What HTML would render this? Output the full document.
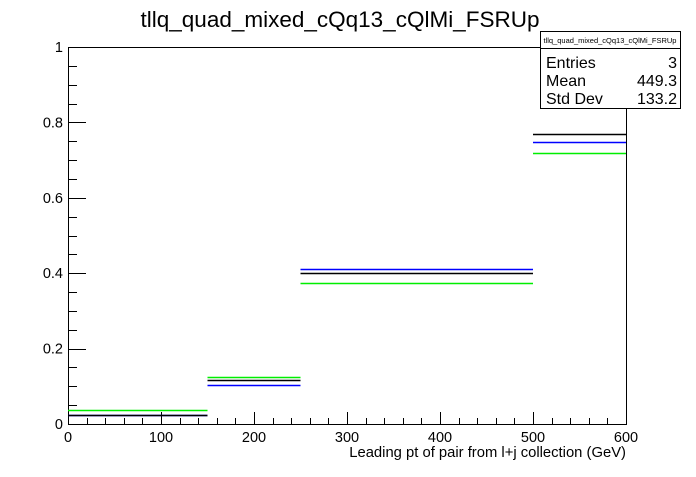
<!DOCTYPE html>
<html><head><meta charset="utf-8"><style>
body{margin:0;background:#fff;}
svg text{font-family:"Liberation Sans",sans-serif;}
</style></head><body>
<svg width="696" height="472" xmlns="http://www.w3.org/2000/svg">
<rect width="696" height="472" fill="#fff"/>
<text x="340" y="27" font-size="22.5" text-anchor="middle">tllq_quad_mixed_cQq13_cQlMi_FSRUp</text>
<g id="axes"></g>
<g id="series"></g>
<g>
<rect x="540.5" y="31.5" width="140" height="77" fill="#fff" stroke="#000"/>
<line x1="540" y1="48.5" x2="681" y2="48.5" stroke="#000"/>
<text x="610" y="43" font-size="7.5" text-anchor="middle">tllq_quad_mixed_cQq13_cQlMi_FSRUp</text>
<text x="546" y="68" font-size="16">Entries</text><text x="677" y="68" font-size="16" text-anchor="end">3</text>
<text x="546" y="86" font-size="16">Mean</text><text x="677" y="86" font-size="16" text-anchor="end">449.3</text>
<text x="546" y="104" font-size="16">Std Dev</text><text x="677" y="104" font-size="16" text-anchor="end">133.2</text>
</g>
</svg>
<script>
const binEdges=[0,150,250,500,600];
const blackVals=[0.024,0.117,0.401,0.769];
const blueVals=[0.024,0.103,0.410,0.747];
const greenVals=[0.037,0.125,0.373,0.720];
const xTicks=[0,100,200,300,400,500,600];
const yTicks=[0,0.2,0.4,0.6,0.8,1];
const yTickLabels=["0","0.2","0.4","0.6","0.8","1"];
const NS="http://www.w3.org/2000/svg";
const X0=68,X1=626,Y0=424,Y1=47;
const xs=v=>X0+(v-0)/(600-0)*(X1-X0);
const ys=v=>Y0-(v-0)/(1-0)*(Y0-Y1);
function mk(tag,attrs,parent){const e=document.createElementNS(NS,tag);for(const k in attrs)e.setAttribute(k,attrs[k]);parent.appendChild(e);return e;}
const ax=document.getElementById('axes');
const fr=mk('rect',{x:X0+0.5,y:Y1+0.5,width:X1-X0,height:Y0-Y1,fill:'none',stroke:'#000'},ax);


for(let v=0;v<=600;v+=20){const major=v%100===0;const x=Math.round(xs(v))+0.5;
mk('line',{x1:x,y1:Y0,x2:x,y2:Y0-(major?12:6),stroke:'#000'},ax);}
xTicks.forEach(v=>{const t=mk('text',{x:xs(v),y:Y0+18,'font-size':14.5,'text-anchor':'middle'},ax);t.textContent=v;

});
for(let i=0;i<=20;i++){const v=i*0.05;const major=i%4===0;const y=Math.round(ys(v))+0.5;
mk('line',{x1:X0,y1:y,x2:X0+(major?18:9),y2:y,stroke:'#000'},ax);}
yTicks.forEach((v,i)=>{const t=mk('text',{x:X0-5,y:ys(v)+5,'font-size':14.5,'text-anchor':'end'},ax);t.textContent=yTickLabels[i];

});
const xt=mk('text',{x:X1,y:457,'font-size':14.8,'text-anchor':'end'},ax);xt.textContent='Leading pt of pair from l+j collection (GeV)';


const sg=document.getElementById('series');
[[blueVals,'#0000ff','blue'],[greenVals,'#00ee00','green'],[blackVals,'#000','black']].forEach(([vals,col,nm])=>{
vals.forEach((v,i)=>{const y=Math.round(ys(v))+0.5;
const l=mk('line',{x1:xs(binEdges[i]),y1:y,x2:xs(binEdges[i+1]),y2:y,stroke:col,'stroke-width':1.4},sg);

});});
</script>
</body></html>
